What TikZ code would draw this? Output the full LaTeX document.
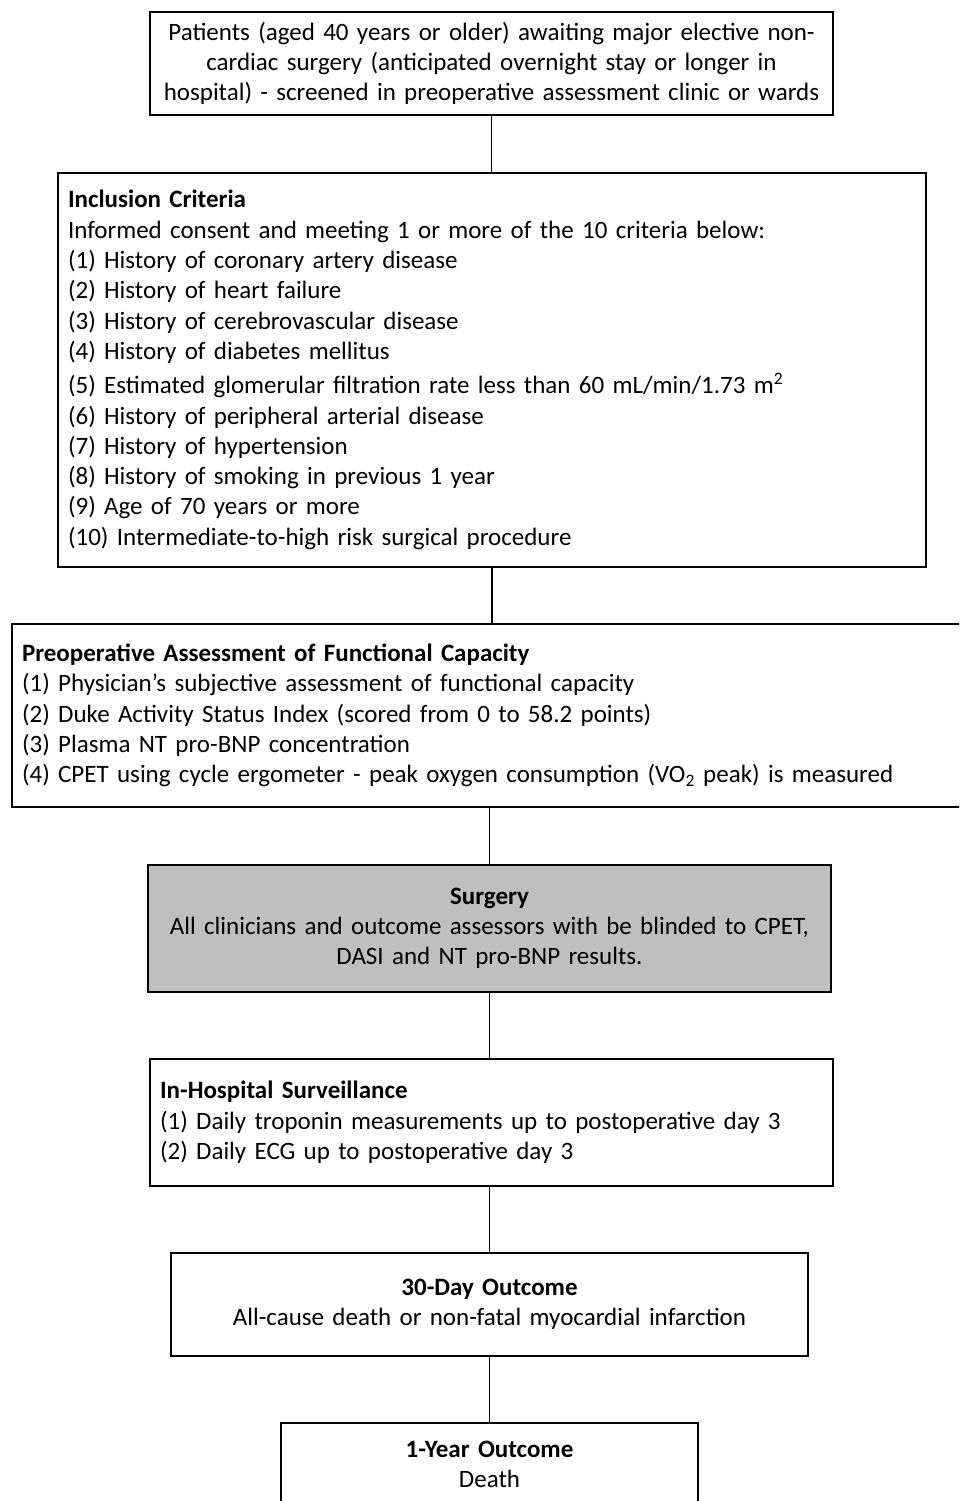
\documentclass[tikz,border=0pt]{standalone}
\usepackage{fontspec}
\setmainfont{Carlito}
\usetikzlibrary{positioning}

\tikzset{
  box/.style={draw, line width=1.8pt, inner xsep=10pt, inner ysep=0pt,
    font=\fontsize{25}{30.3}\selectfont},
  cbox/.style={box, align=center},
  lbox/.style={box, align=left},
  link/.style={line width=1.8pt}
}

\begin{document}
\begin{tikzpicture}[x=1pt, y=-1pt]
  \clip (0,0) rectangle (959,1501);

  \node[cbox, text width=663pt, minimum height=103pt] (patients) at (491.5,63.5)
    {Patients (aged 40 years or older) awaiting major elective non-\\
     cardiac surgery (anticipated overnight stay or longer in\\
     hospital) - screened in preoperative assessment clinic or wards};

  \node[lbox, text width=848pt, minimum height=394pt] (inclusion) at (492,370)
    {\textbf{Inclusion Criteria}\\
     Informed consent and meeting 1 or more of the 10 criteria below:\\
     (1) History of coronary artery disease\\
     (2) History of heart failure\\
     (3) History of cerebrovascular disease\\
     (4) History of diabetes mellitus\\[4pt]
     (5) Estimated glomerular filtration rate less than 60 mL/min/1.73 m\textsuperscript{2}\\
     (6) History of peripheral arterial disease\\
     (7) History of hypertension\\
     (8) History of smoking in previous 1 year\\
     (9) Age of 70 years or more\\
     (10) Intermediate-to-high risk surgical procedure};

  \node[lbox, text width=938pt, minimum height=183pt] (preop) at (491,715.5)
    {\textbf{Preoperative Assessment of Functional Capacity}\\
     (1) Physician's subjective assessment of functional capacity\\
     (2) Duke Activity Status Index (scored from 0 to 58.2 points)\\
     (3) Plasma NT pro-BNP concentration\\
     (4) CPET using cycle ergometer - peak oxygen consumption (VO\textsubscript{2} peak) is measured};

  \node[cbox, fill=black!25, text width=663pt, minimum height=127pt] (surgery) at (489.5,928.5)
    {\textbf{Surgery}\\
     All clinicians and outcome assessors with be blinded to CPET,\\
     DASI and NT pro-BNP results.};

  \node[lbox, text width=663pt, minimum height=127pt] (hospital) at (491.5,1122.5)
    {\textbf{In-Hospital Surveillance}\\
     (1) Daily troponin measurements up to postoperative day 3\\
     (2) Daily ECG up to postoperative day 3};

  \node[cbox, text width=617pt, minimum height=103pt] (day30) at (489.5,1304.5)
    {\textbf{30-Day Outcome}\\
     All-cause death or non-fatal myocardial infarction};

  \node[cbox, text width=397pt, minimum height=83pt] (year1) at (489.5,1464.5)
    {\textbf{1-Year Outcome}\\
     Death};

  \draw[link] (patients.south) -- (patients.south |- inclusion.north);
  \draw[link] (inclusion.south) -- (inclusion.south |- preop.north);
  \draw[link] (surgery.north |- preop.south) -- (surgery.north);
  \draw[link] (surgery.south) -- (surgery.south |- hospital.north);
  \draw[link] (day30.north |- hospital.south) -- (day30.north);
  \draw[link] (day30.south) -- (day30.south |- year1.north);
\end{tikzpicture}
\end{document}
